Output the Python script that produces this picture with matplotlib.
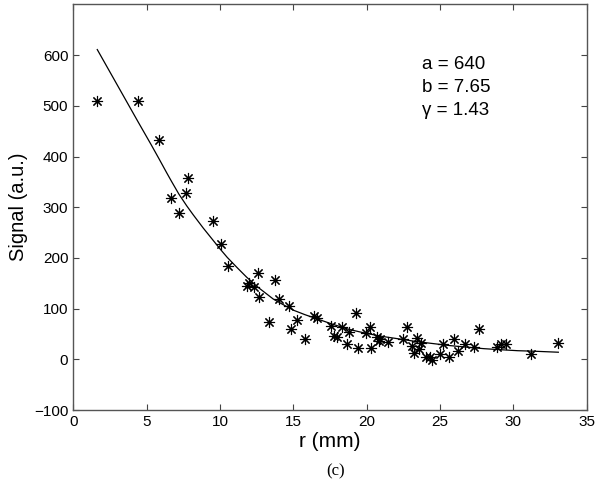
import matplotlib
matplotlib.use("Agg")
import matplotlib.pyplot as plt

plt.rcParams["font.family"] = ["Liberation Sans", "DejaVu Sans"]

# measured points (r in mm, signal in a.u.)
r_data = [1.64, 4.43, 5.84, 6.64, 7.18, 7.68, 7.84, 9.54, 10.05, 10.52,
          11.82, 11.98, 12.34, 12.57, 12.66, 13.32, 13.77, 14.02, 14.68, 14.86,
          15.23, 15.77, 16.41, 16.6, 17.55, 17.8, 18.0, 18.34, 18.64, 18.79,
          19.25, 19.41, 19.93, 20.23, 20.32, 20.72, 20.82, 20.91, 21.45, 22.5,
          22.77, 23.11, 23.22, 23.45, 23.57, 23.68, 24.04, 24.32, 24.43, 25.02,
          25.18, 25.61, 25.97, 26.2, 26.7, 27.31, 27.66, 28.9, 29.15, 29.5,
          31.18, 33.06]
s_data = [510, 509, 432, 319, 288, 329, 357, 272, 228, 185,
          145, 151, 142, 170, 123, 74, 157, 119, 105, 60,
          77, 40, 86, 82, 66, 46, 45, 63, 30, 54,
          92, 22, 51, 63, 22, 45, 36, 41, 34, 40,
          63, 26, 12, 43, 20, 33, 4, 5, -1, 10,
          30, 4, 40, 16, 30, 24, 59, 24, 30, 30,
          10, 33]

# fitted curve
r_fit = [1.64, 4.43, 5.3, 5.84, 6.37, 6.7, 7.2, 7.73, 8.18, 8.86,
         9.5, 10.0, 10.5, 11.2, 11.82, 12.6, 13.63, 14.3, 15.0, 15.8,
         16.6, 17.7, 18.8, 20.0, 21.1, 22.27, 23.4, 24.54, 25.7, 26.8,
         28.0, 29.1, 30.3, 31.4, 33.06]
s_fit = [611, 468, 424, 396, 368, 351, 326, 303, 285, 259,
         236, 218, 201, 180, 162, 142, 119, 108, 97, 88,
         80, 69, 59, 51, 45, 40, 35, 31, 27, 24,
         21, 19, 17, 16, 14]

fig = plt.figure(figsize=(6.0, 4.94), dpi=100)
ax = fig.add_axes([0.122, 0.170, 0.856, 0.821])

ax.plot(r_fit, s_fit, color="black", lw=0.9)
ax.plot(r_data, s_data, ls="none", marker=(8, 2, 0), color="black",
        markersize=8, markeredgewidth=0.8)

ax.set_xlim(0, 35)
ax.set_ylim(-100, 700)
ax.set_xticks(range(0, 36, 5))
ax.set_yticks(range(-100, 601, 100))
ax.set_yticklabels(["\u2212100"] + [str(v) for v in range(0, 601, 100)])
ax.tick_params(direction="in", top=True, right=True, labelsize=11,
               length=4, color="#444444")
for sp in ax.spines.values():
    sp.set_color("#555555")
    sp.set_linewidth(1.0)

ax.set_xlabel("r (mm)", fontsize=15, labelpad=2)
ax.set_ylabel("Signal (a.u.)", fontsize=14.5, labelpad=4)

ax.text(0.679, 0.851, "a = 640", transform=ax.transAxes, fontsize=13.5, va="center")
ax.text(0.679, 0.794, "b = 7.65", transform=ax.transAxes, fontsize=13.5, va="center")
ax.text(0.679, 0.738, "\u03b3 = 1.43", transform=ax.transAxes, fontsize=13.5, va="center")

fig.text(0.56, 0.045, "(c)", fontsize=12, ha="center", va="center",
         family=["Liberation Serif", "DejaVu Serif"])

fig.savefig("out.png", dpi=100)
